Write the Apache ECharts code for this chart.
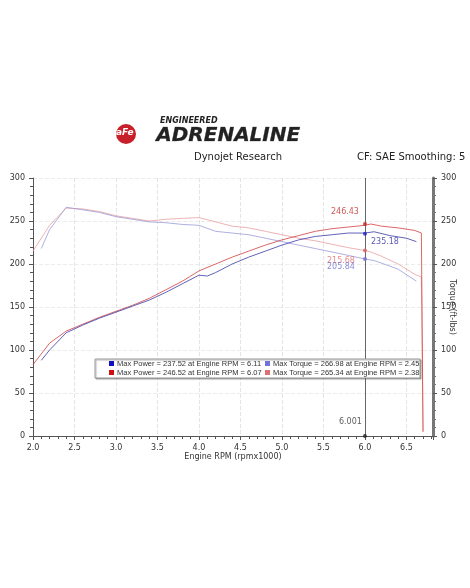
<!DOCTYPE html><html><head><meta charset="utf-8"><script src="https://cdn.jsdelivr.net/npm/echarts@6/dist/echarts.min.js"></script>
<style>html,body{margin:0;background:#fff}#c{width:470px;height:588px}</style></head><body><div id="c"></div><script>
const rpmRedP=[2.0,2.2,2.4,2.6,2.8,3.0,3.2,3.4,3.6,3.8,4.0,4.2,4.4,4.6,4.8,5.0,5.2,5.4,5.6,5.8,6.0,6.07,6.2,6.4,6.6,6.68,6.7];
const redPower=[83,108,122,130,138,145,152,160,170,180,192,200,208,215,222,228,233,238,241,243,245,246.5,244,242,239,236,5];
const rpmBlueP=[2.1,2.2,2.4,2.6,2.8,3.0,3.2,3.4,3.6,3.8,4.0,4.1,4.2,4.4,4.6,4.8,5.0,5.2,5.4,5.6,5.8,6.0,6.11,6.3,6.5,6.62];
const bluePower=[88,100,120,129,137,144,151,158,167,177,187,186,190,200,208,215,222,228,232,234,236,236,237.5,233,230,226];
const redTorque=[215,245,265,264,261,256,253,250,252,253,254,249,244,242,238,234,230,227,223,219,215.7,214,209,200,188,185,5];
const rpmBlueT=[2.1,2.2,2.4,2.6,2.8,3.0,3.2,3.4,3.6,3.8,4.0,4.2,4.4,4.6,4.8,5.0,5.2,5.4,5.6,5.8,6.0,6.11,6.2,6.4,6.62];
const blueTorque=[218,240,266,263,260,255,252,249,248,246,245,238,236,234,230,226,222,218,214,210,205.8,204,201,194,180];
const legendLines=['Max Power = 237.52 at Engine RPM = 6.11','Max Power = 246.52 at Engine RPM = 6.07','Max Torque = 266.98 at Engine RPM = 2.45','Max Torque = 265.34 at Engine RPM = 2.38'];
const z=(a,b)=>a.map((x,i)=>[x,b[i]]);
const F='DejaVu Sans';
const ch=echarts.init(document.getElementById('c'));
const ax={type:'value',min:0,max:300,interval:50,axisLine:{show:true,lineStyle:{color:'#555'}},axisTick:{show:true,length:4,lineStyle:{color:'#555'}},minorTick:{show:true,splitNumber:5,length:3},splitLine:{show:false},axisLabel:{fontSize:8,color:'#333',fontFamily:F},nameTextStyle:{fontSize:8,color:'#333',fontFamily:F},nameLocation:'middle'};
const line=(d,c,w)=>({type:'line',data:d,symbol:'none',lineStyle:{color:c,width:w||0.8},z:3});
ch.setOption({animation:false,
grid:{left:33,right:37,top:178,bottom:152,containLabel:false,outerBoundsMode:'none'},
xAxis:{type:'value',min:2,max:6.82,interval:0.5,axisLine:{lineStyle:{color:'#555'}},axisTick:{length:4},minorTick:{show:true,splitNumber:5,length:3},axisLabel:{fontSize:8,color:'#333',fontFamily:F,formatter:v=>v>6.6?'':v.toFixed(1)},splitLine:{show:true,lineStyle:{color:'#e4e4e4',type:'dashed'}},name:'Engine RPM (rpmx1000)',nameLocation:'middle',nameGap:14,nameTextStyle:{fontSize:8,color:'#333',fontFamily:F}},
yAxis:[Object.assign({},ax,{name:'Power (hp)',nameGap:20,splitLine:{show:true,lineStyle:{color:'#ececec',type:'dashed'}}}),Object.assign({},ax,{position:'right',axisLine:{show:true,lineStyle:{color:'#777',width:3}}})],
series:[line(z(rpmRedP,redTorque),'#e8a0a0'),line(z(rpmBlueT,blueTorque),'#9a9ad8'),line(z(rpmRedP,redPower),'#d04040'),
Object.assign(line(z(rpmBlueP,bluePower),'#3a3aa8'),{markLine:{symbol:'none',silent:true,label:{show:false},lineStyle:{color:'#666',type:'solid',width:1},data:[{xAxis:6.0}]}}),
{type:'scatter',symbolSize:4,z:5,data:[
{value:[6.0,246.43],itemStyle:{color:'#d02020'},label:{show:true,formatter:'246.43',position:[-32,-14],color:'#c03030',fontSize:8,fontFamily:F}},
{value:[6.0,235.18],itemStyle:{color:'#2020c0'},label:{show:true,formatter:'235.18',position:[8,6],color:'#3030a0',fontSize:8,fontFamily:F}},
{value:[6.0,215.68],itemStyle:{color:'#e06060'},label:{show:true,formatter:'215.68',position:[-36,8],color:'#e07070',fontSize:8,fontFamily:F}},
{value:[6.0,205.84],itemStyle:{color:'#7070d8'},label:{show:true,formatter:'205.84',position:[-36,6],color:'#7070d0',fontSize:8,fontFamily:F}},
{value:[6.0,0],itemStyle:{color:'#222'},label:{show:true,formatter:'6.001',position:[-24,-16],color:'#333',fontSize:8,fontFamily:F}}]}],
graphic:[
{type:'circle',shape:{cx:126,cy:134,r:10},style:{fill:'#c8202a'}},
{type:'text',left:116,top:128,style:{text:'aFe',fill:'#fff',font:'bold italic 9px "DejaVu Sans"'}},
{type:'text',left:160,top:117,style:{text:'ENGINEERED',fill:'#222',font:'bold italic 8px "DejaVu Sans"'}},
{type:'text',left:156,top:126,style:{text:'ADRENALINE',fill:'#222',font:'bold italic 20px "DejaVu Sans"',stroke:'#888',lineWidth:0.5}},
{type:'text',left:194,top:152,style:{text:'Dynojet Research',fill:'#222',font:'10px "DejaVu Sans"'}},
{type:'text',left:357,top:152,style:{text:'CF: SAE Smoothing: 5',fill:'#222',font:'10px "DejaVu Sans"'}},
{type:'text',x:452,y:307,rotation:-Math.PI/2,style:{text:'Torque (ft-lbs)',fill:'#333',font:'8px "DejaVu Sans"',align:'center',verticalAlign:'middle'}},
{type:'rect',z:10,shape:{x:95,y:359,width:325,height:19},style:{fill:'#fff',stroke:'#999',shadowColor:'rgba(0,0,0,0.3)',shadowOffsetX:1,shadowOffsetY:1,shadowBlur:1}},
{type:'rect',z:11,shape:{x:109,y:361,width:5,height:5},style:{fill:'#1010c0'}},
{type:'rect',z:11,shape:{x:109,y:370,width:5,height:5},style:{fill:'#d01010'}},
{type:'rect',z:11,shape:{x:265,y:361,width:5,height:5},style:{fill:'#7070e0'}},
{type:'rect',z:11,shape:{x:265,y:370,width:5,height:5},style:{fill:'#e07070'}},
{type:'text',z:11,left:117,top:360,style:{text:legendLines[0],fill:'#333',font:'7.5px "Liberation Sans"'}},
{type:'text',z:11,left:117,top:369,style:{text:legendLines[1],fill:'#333',font:'7.5px "Liberation Sans"'}},
{type:'text',z:11,left:273,top:360,style:{text:legendLines[2],fill:'#333',font:'7.5px "Liberation Sans"'}},
{type:'text',z:11,left:273,top:369,style:{text:legendLines[3],fill:'#333',font:'7.5px "Liberation Sans"'}}
]});
</script></body></html>
